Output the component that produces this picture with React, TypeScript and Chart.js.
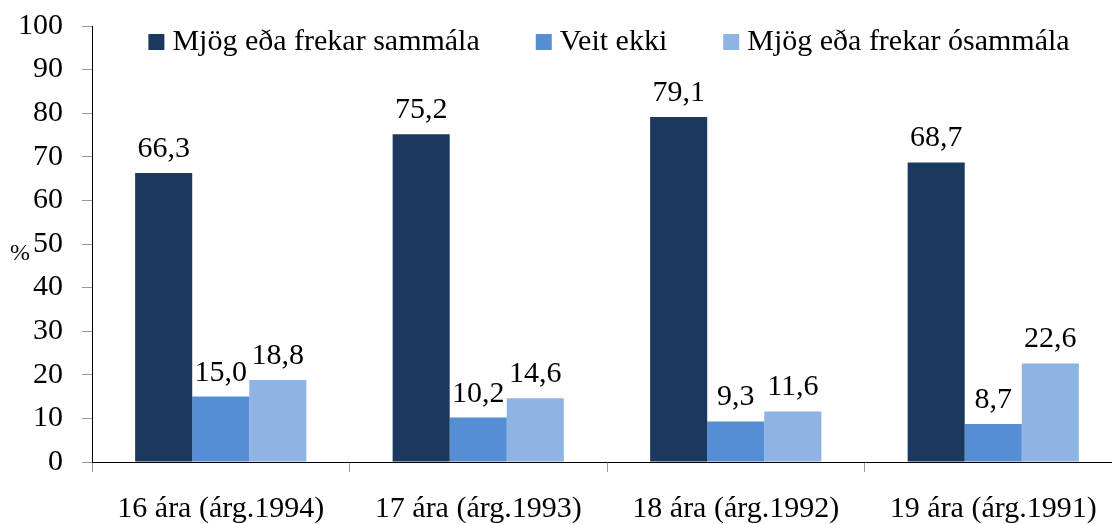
import React, { useEffect, useRef } from 'react';
import { Chart, registerables } from 'chart.js';

Chart.register(...registerables);

const categories = ['16 ára (árg.1994)', '17 ára (árg.1993)', '18 ára (árg.1992)', '19 ára (árg.1991)'];
const seriesNames = ['Mjög eða frekar sammála', 'Veit ekki', 'Mjög eða frekar ósammála'];
const agreeValues = [66.3, 75.2, 79.1, 68.7];
const dontKnowValues = [15.0, 10.2, 9.3, 8.7];
const disagreeValues = [18.8, 14.6, 11.6, 22.6];
const yMin = 0;
const yMax = 100;
const yStep = 10;
const yAxisTitle = '%';

const seriesColors = ['#1B385E', '#558ED5', '#8EB4E3'];
const FONT = "'Liberation Serif', 'Times New Roman', serif";
const FS = 30;

const dataLabelPlugin = {
  id: 'dataLabels',
  afterDatasetsDraw(chart: any) {
    const ctx = chart.ctx;
    ctx.save();
    ctx.font = `${FS}px ${FONT}`;
    ctx.fillStyle = '#000';
    ctx.textAlign = 'center';
    ctx.textBaseline = 'alphabetic';
    chart.data.datasets.forEach((ds: any, i: number) => {
      const meta = chart.getDatasetMeta(i);
      meta.data.forEach((bar: any, j: number) => {
        const v = ds.data[j] as number;
        ctx.fillText(v.toFixed(1).replace('.', ','), bar.x, bar.y - 16);
      });
    });
    ctx.restore();
  },
};

const legendPlugin = {
  id: 'customLegend',
  afterDraw(chart: any) {
    const ctx = chart.ctx;
    const area = chart.chartArea;
    ctx.save();
    ctx.font = `${FS}px ${FONT}`;
    const box = 16;
    const gap = 8;
    const spacing = 56;
    const items = chart.data.datasets.map((ds: any) => ({
      label: ds.label as string,
      color: ds.backgroundColor as string,
      w: box + gap + ctx.measureText(ds.label).width,
    }));
    const total = items.reduce((s: number, it: any) => s + it.w, 0) + spacing * (items.length - 1);
    let x = (area.left + area.right) / 2 + 2 - total / 2;
    const cy = 42;
    items.forEach((it: any) => {
      ctx.fillStyle = it.color;
      ctx.fillRect(x, cy - box / 2, box, box);
      ctx.fillStyle = '#000';
      ctx.textAlign = 'left';
      ctx.textBaseline = 'middle';
      ctx.fillText(it.label, x + box + gap, cy);
      x += it.w + spacing;
    });
    // y-axis title (unrotated)
    ctx.font = `24px ${FONT}`;
    ctx.textAlign = 'left';
    ctx.textBaseline = 'middle';
    ctx.fillText(yAxisTitle, 10, 254);
    ctx.restore();
  },
};

export default function App() {
  const canvasRef = useRef<HTMLCanvasElement | null>(null);

  useEffect(() => {
    if (!canvasRef.current) return;
    const values = [agreeValues, dontKnowValues, disagreeValues];
    const chart = new Chart(canvasRef.current, {
      type: 'bar',
      data: {
        labels: categories,
        datasets: seriesNames.map((name, i) => ({
          label: name,
          data: values[i],
          backgroundColor: seriesColors[i],
          borderWidth: 0,
          categoryPercentage: 0.665,
          barPercentage: 1,
        })),
      },
      options: {
        responsive: true,
        maintainAspectRatio: false,
        animation: false,
        layout: { padding: { top: 26, right: 0, bottom: 0, left: 0 } },
        plugins: {
          legend: { display: false },
          tooltip: { enabled: false },
        },
        scales: {
          x: {
            grid: {
              display: true,
              drawOnChartArea: false,
              drawTicks: true,
              tickLength: 10,
              color: '#999',
              offset: true,
            },
            border: { color: '#000', width: 1 },
            ticks: {
              font: { family: FONT, size: FS, lineHeight: 1 },
              color: '#000',
              padding: 22,
              maxRotation: 0,
              autoSkip: false,
            },
            afterFit: (scale: any) => {
              scale.height = 62;
              scale.paddingLeft = 0;
              scale.paddingRight = 0;
            },
          },
          y: {
            min: yMin,
            max: yMax,
            ticks: {
              stepSize: yStep,
              font: { family: FONT, size: FS },
              color: '#000',
              padding: 19,
            },
            grid: {
              drawOnChartArea: false,
              drawTicks: true,
              tickLength: 10,
              color: '#999',
            },
            border: { color: '#000', width: 1 },
            afterFit: (scale: any) => {
              scale.width = 92;
              scale.paddingTop = 0;
              scale.paddingBottom = 0;
            },
          },
        },
      },
      plugins: [dataLabelPlugin, legendPlugin],
    });
    return () => chart.destroy();
  }, []);

  return (
    <div style={{ position: 'fixed', left: 0, top: 0, width: 1112, height: 524, overflow: 'hidden', background: '#fff' }}>
      <div style={{ position: 'relative', width: 1122, height: 524 }}>
        <canvas ref={canvasRef} />
      </div>
    </div>
  );
}
